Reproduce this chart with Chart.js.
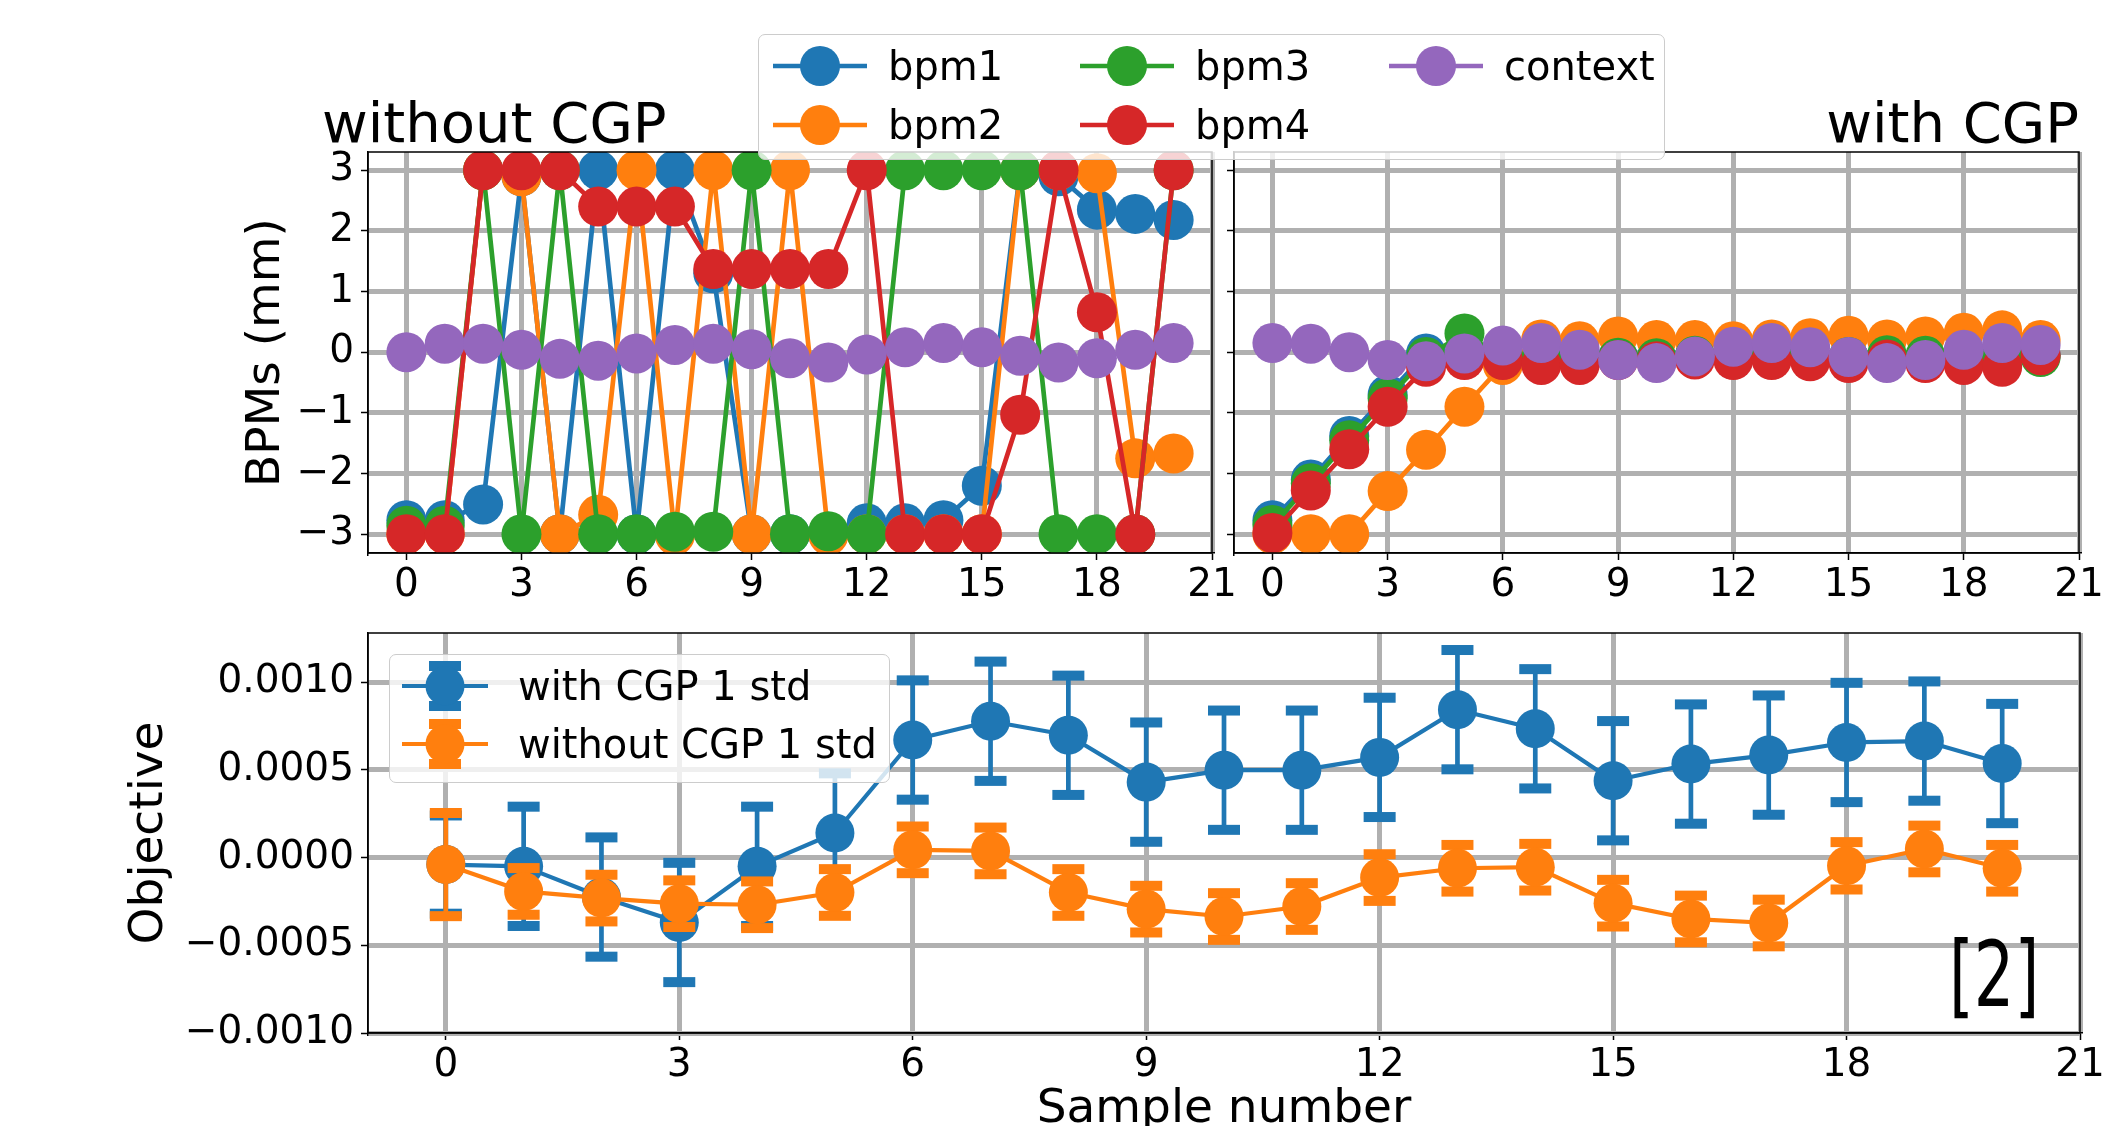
<!DOCTYPE html>
<html>
<head>
<meta charset="utf-8">
<script src="https://cdn.jsdelivr.net/npm/chart.js@4.4.1/dist/chart.umd.min.js"></script>
<style>
  body { margin: 0; width: 2123px; height: 1126px; overflow: hidden; background: #fff; position: relative; font-family: "DejaVu Sans", sans-serif; }
  canvas { position: absolute; }
  .title { position: absolute; font-size: 56px; line-height: 56px; color: #000; white-space: nowrap; }
  .legend { position: absolute; background: rgba(255,255,255,0.8); border: 1.5px solid #cccccc; border-radius: 7px; box-sizing: border-box; z-index: 5; }
  .item { position: absolute; display: flex; align-items: center; font-size: 40px; color: #000; white-space: nowrap; }
  .tag { position: absolute; left: 1949px; top: 929px; font-size: 91px; line-height: 91px; transform: scaleX(0.7); transform-origin: left top; color: #000; }
</style>
</head>
<body>
<div class="title" style="left:322px; top:95px;">without CGP</div>
<div class="title" style="right:44px; top:95px;">with CGP</div>

<canvas id="bpmLeft" width="1013" height="501" style="left:239px; top:112px;"></canvas>
<canvas id="bpmRight" width="905" height="501" style="left:1214px; top:112px;"></canvas>
<canvas id="objective" width="1998" height="545" style="left:122px; top:593px;"></canvas>

<div class="legend" id="bpmLegend" style="left:758px; top:34px; width:907px; height:126px;"></div>
<div class="legend" id="objLegend" style="left:389px; top:654px; width:501px; height:129px;"></div>
<div class="tag">[2]</div>

<script>
const FONT = "DejaVu Sans";

const samples = [0, 1, 2, 3, 4, 5, 6, 7, 8, 9, 10, 11, 12, 13, 14, 15, 16, 17, 18, 19, 20];
const xTickValues = [0, 3, 6, 9, 12, 15, 18, 21];
const bpmTickValues = [-3, -2, -1, 0, 1, 2, 3];
const objTickValues = [-0.001, -0.0005, 0, 0.0005, 0.001];

const seriesNames = ["bpm1", "bpm2", "bpm3", "bpm4", "context"];
const seriesColors = ["#1f77b4", "#ff7f0e", "#2ca02c", "#d62728", "#9467bd"];

// left panel: without CGP
const noCgpBpm1 = [-2.77, -2.77, -2.51, 2.9, -3, 3, -3, 3, 1.3, -3, -3, -3, -2.82, -2.82, -2.77, -2.2, 3, 2.9, 2.35, 2.28, 2.18];
const noCgpBpm2 = [-3, -3, 3, 2.9, -3, -2.68, 3, -3.02, 3, -3, 3, -3.02, -3, -3, -3, -3, 3, 3, 2.95, -1.75, -1.67];
const noCgpBpm3 = [-2.86, -2.86, 3, -3, 3, -3, -3, -2.96, -2.96, 3, -3, -2.95, -3, 3, 3, 3, 3, -3, -3, -3, 3];
const noCgpBpm4 = [-3, -3, 3, 3, 3, 2.4, 2.4, 2.4, 1.37, 1.37, 1.37, 1.37, 3, -3, -3, -3, -1.03, 3, 0.66, -3, 3];
const noCgpContext = [0, 0.14, 0.14, 0.04, -0.11, -0.14, -0.02, 0.12, 0.14, 0.05, -0.1, -0.17, -0.04, 0.08, 0.15, 0.08, -0.06, -0.17, -0.1, 0.04, 0.15];

// right panel: with CGP
const cgpBpm1 = [-2.77, -2.1, -1.38, -0.7, -0.02, -0.06, -0.08, -0.07, -0.09, -0.08, -0.1, -0.06, -0.05, -0.04, -0.06, -0.09, -0.08, -0.09, -0.06, -0.04, -0.05];
const cgpBpm2 = [-3, -3, -3, -2.29, -1.61, -0.9, -0.21, 0.21, 0.18, 0.26, 0.2, 0.2, 0.18, 0.21, 0.23, 0.27, 0.21, 0.26, 0.32, 0.36, 0.2];
const cgpBpm3 = [-2.85, -2.16, -1.45, -0.76, -0.08, 0.31, -0.09, -0.1, -0.11, -0.09, -0.1, -0.06, -0.06, -0.05, -0.07, -0.08, -0.05, -0.06, -0.08, -0.08, -0.08];
const cgpBpm4 = [-2.98, -2.28, -1.6, -0.9, -0.24, -0.13, -0.13, -0.21, -0.21, -0.13, -0.15, -0.12, -0.13, -0.13, -0.15, -0.18, -0.12, -0.18, -0.21, -0.24, -0.05];
const cgpContext = [0.15, 0.14, 0, -0.13, -0.15, -0.02, 0.11, 0.15, 0.04, -0.13, -0.18, -0.07, 0.09, 0.15, 0.08, -0.08, -0.18, -0.13, 0.04, 0.15, 0.12];

// bottom panel: objective mean and 1 std
const objNames = ["with CGP 1 std", "without CGP 1 std"];
const objColors = ["#1f77b4", "#ff7f0e"];
const withCgpMean = [-0.00004, -0.00005, -0.000225, -0.00037, -0.00005, 0.00014, 0.00067, 0.000777, 0.000697, 0.00043, 0.000498, 0.000498, 0.000571, 0.000843, 0.000734, 0.000438, 0.000533, 0.000584, 0.000656, 0.000664, 0.000536];
const withCgpStd = [0.00028, 0.00034, 0.00034, 0.00034, 0.00034, 0.00034, 0.00034, 0.00034, 0.00034, 0.00034, 0.00034, 0.00034, 0.00034, 0.00034, 0.00034, 0.00034, 0.00034, 0.00034, 0.00034, 0.00034, 0.00034];
const noCgpMean = [-0.00004, -0.000193, -0.000231, -0.000263, -0.000269, -0.000199, 0.000044, 0.000038, -0.000199, -0.000294, -0.000336, -0.000279, -0.000114, -0.000061, -0.000055, -0.00026, -0.00035, -0.000373, -0.000047, 0.000049, -0.000061];
const noCgpStd = [0.000294, 0.000133, 0.000133, 0.000133, 0.000133, 0.000133, 0.000133, 0.000133, 0.000133, 0.000133, 0.000133, 0.000133, 0.000133, 0.000133, 0.000133, 0.000133, 0.000133, 0.000133, 0.000135, 0.000133, 0.000133];

function minus(v, text) {
    return (v < 0 ? "\u2212" : "") + text;
}

// full box round the plot, like matplotlib spines
const frame = {
    id: "frame",
    afterDatasetsDraw(chart) {
        const {ctx, chartArea: a} = chart;
        ctx.save();
        ctx.strokeStyle = "#000";
        ctx.lineWidth = 1.5;
        ctx.strokeRect(a.left, a.top, a.right - a.left, a.bottom - a.top);
        ctx.restore();
    }
};

// vertical error bars with caps, drawn just under each dataset
const errorBars = {
    id: "errorBars",
    beforeDatasetDraw(chart, args) {
        const ds = chart.data.datasets[args.index];
        if (!ds.errors) return;
        const {ctx, chartArea: a} = chart;
        const y = chart.scales.y;
        ctx.save();
        ctx.beginPath();
        ctx.rect(a.left, a.top, a.right - a.left, a.bottom - a.top);
        ctx.clip();
        ctx.strokeStyle = ds.borderColor;
        ctx.fillStyle = ds.borderColor;
        ctx.lineWidth = 4.7;
        args.meta.data.forEach((pt, i) => {
            const v = ds.data[i].y;
            const top = y.getPixelForValue(v + ds.errors[i]);
            const bot = y.getPixelForValue(v - ds.errors[i]);
            ctx.beginPath();
            ctx.moveTo(pt.x, top);
            ctx.lineTo(pt.x, bot);
            ctx.stroke();
            ctx.fillRect(pt.x - 16, top - 5, 32, 10);
            ctx.fillRect(pt.x - 16, bot - 5, 32, 10);
        });
        ctx.restore();
    }
};

function lineSet(label, values, color, order, extra) {
    return Object.assign({
        label: label,
        data: samples.map((s, k) => ({x: s, y: values[k]})),
        borderColor: color,
        backgroundColor: color,
        borderWidth: 4.7,
        borderJoinStyle: "round",
        pointRadius: 20,
        pointHoverRadius: 20,
        pointBorderWidth: 0,
        pointBackgroundColor: color,
        order: order
    }, extra || {});
}

const gridStyle = {color: "#b0b0b0", lineWidth: 5, tickColor: "#000", tickWidth: 1.5, tickLength: 7};

function xScale(showTitle) {
    return {
        type: "linear",
        min: -1,
        max: 21,
        afterBuildTicks: s => { s.ticks = xTickValues.map(v => ({value: v})); },
        afterFit: s => {
            s.height = showTitle ? 105 : 60;
            s.paddingLeft = 0;
            s.paddingRight = 0;
        },
        grid: gridStyle,
        border: {color: "#000", width: 1.5},
        ticks: {color: "#000", font: {family: FONT, size: 39}, padding: 2, maxRotation: 0, autoSkip: false},
        title: {display: showTitle, text: "Sample number", color: "#000", font: {family: FONT, size: 47, lineHeight: 1.2}, padding: 0}
    };
}

function yScale(min, max, tickValues, width, showLabels, titleText, fmt) {
    return {
        type: "linear",
        min: min,
        max: max,
        afterBuildTicks: s => { s.ticks = tickValues.map(v => ({value: v})); },
        afterFit: s => {
            s.width = width;
            s.paddingTop = 0;
            s.paddingBottom = 0;
        },
        grid: gridStyle,
        border: {color: "#000", width: 1.5},
        ticks: {display: showLabels, color: "#000", font: {family: FONT, size: 39}, padding: 7, callback: fmt},
        title: {display: !!titleText, text: titleText || "", color: "#000", font: {family: FONT, size: 47, lineHeight: 1.2}, padding: 0}
    };
}

function baseOptions(xs, ys, pad) {
    return {
        responsive: false,
        animation: false,
        events: [],
        layout: {padding: pad},
        plugins: {legend: {display: false}, tooltip: {enabled: false}},
        scales: {x: xs, y: ys}
    };
}

const bpmFmt = v => minus(v, String(Math.abs(v)));
const objFmt = v => minus(v, Math.abs(v).toFixed(4));

const leftRows = [noCgpBpm1, noCgpBpm2, noCgpBpm3, noCgpBpm4, noCgpContext];
const rightRows = [cgpBpm1, cgpBpm2, cgpBpm3, cgpBpm4, cgpContext];
const pad = {top: 40, right: 40, left: 0, bottom: 0};

new Chart(document.getElementById("bpmLeft"), {
    type: "line",
    data: {datasets: leftRows.map((r, i) => lineSet(seriesNames[i], r, seriesColors[i], leftRows.length - i))},
    options: baseOptions(xScale(false), yScale(-3.31, 3.3, bpmTickValues, 129, true, "BPMs (mm)", bpmFmt), pad),
    plugins: [frame]
});

new Chart(document.getElementById("bpmRight"), {
    type: "line",
    data: {datasets: rightRows.map((r, i) => lineSet(seriesNames[i], r, seriesColors[i], rightRows.length - i))},
    options: baseOptions(xScale(false), yScale(-3.31, 3.3, bpmTickValues, 8, false, null, bpmFmt), pad),
    plugins: [frame]
});

new Chart(document.getElementById("objective"), {
    type: "line",
    data: {
        datasets: [
            lineSet(objNames[0], withCgpMean, objColors[0], 2, {errors: withCgpStd, pointRadius: 19.5, pointHoverRadius: 19.5, borderWidth: 4.2}),
            lineSet(objNames[1], noCgpMean, objColors[1], 1, {errors: noCgpStd, pointRadius: 19.5, pointHoverRadius: 19.5, borderWidth: 4.2})
        ]
    },
    options: baseOptions(xScale(true), yScale(-0.001, 0.00128, objTickValues, 246, true, "Objective", objFmt), pad),
    plugins: [errorBars, frame]
});

// html legends
const SVG = "http://www.w3.org/2000/svg";
function el(tag, attrs) {
    const e = document.createElementNS(SVG, tag);
    for (const k in attrs) e.setAttribute(k, attrs[k]);
    return e;
}

function addItem(box, left, centerY, svg, textGap, text) {
    const item = document.createElement("div");
    item.className = "item";
    item.style.left = left + "px";
    item.style.top = (centerY - svg.getAttribute("height") / 2) + "px";
    item.appendChild(svg);
    const span = document.createElement("span");
    span.style.marginLeft = textGap + "px";
    span.textContent = text;
    item.appendChild(span);
    box.appendChild(item);
}

const bpmLegend = document.getElementById("bpmLegend");
const colLefts = [14, 321, 630];
const rowCenters = [30, 89];
seriesNames.forEach((name, i) => {
    const svg = el("svg", {width: 94, height: 44});
    svg.appendChild(el("line", {x1: 0, y1: 22, x2: 94, y2: 22, stroke: seriesColors[i], "stroke-width": 4.7}));
    svg.appendChild(el("circle", {cx: 47, cy: 22, r: 20, fill: seriesColors[i]}));
    addItem(bpmLegend, colLefts[Math.floor(i / 2)], rowCenters[i % 2], svg, 21, name);
});

const objLegend = document.getElementById("objLegend");
const objRows = [31, 89];
objNames.forEach((name, i) => {
    const c = objColors[i];
    const svg = el("svg", {width: 86, height: 60});
    svg.appendChild(el("line", {x1: 0, y1: 30, x2: 86, y2: 30, stroke: c, "stroke-width": 4.2}));
    svg.appendChild(el("line", {x1: 43, y1: 10, x2: 43, y2: 50, stroke: c, "stroke-width": 4.7}));
    svg.appendChild(el("rect", {x: 27, y: 5, width: 32, height: 10, fill: c}));
    svg.appendChild(el("rect", {x: 27, y: 45, width: 32, height: 10, fill: c}));
    svg.appendChild(el("circle", {cx: 43, cy: 30, r: 19.5, fill: c}));
    addItem(objLegend, 12, objRows[i], svg, 30, name);
});
</script>
</body>
</html>
